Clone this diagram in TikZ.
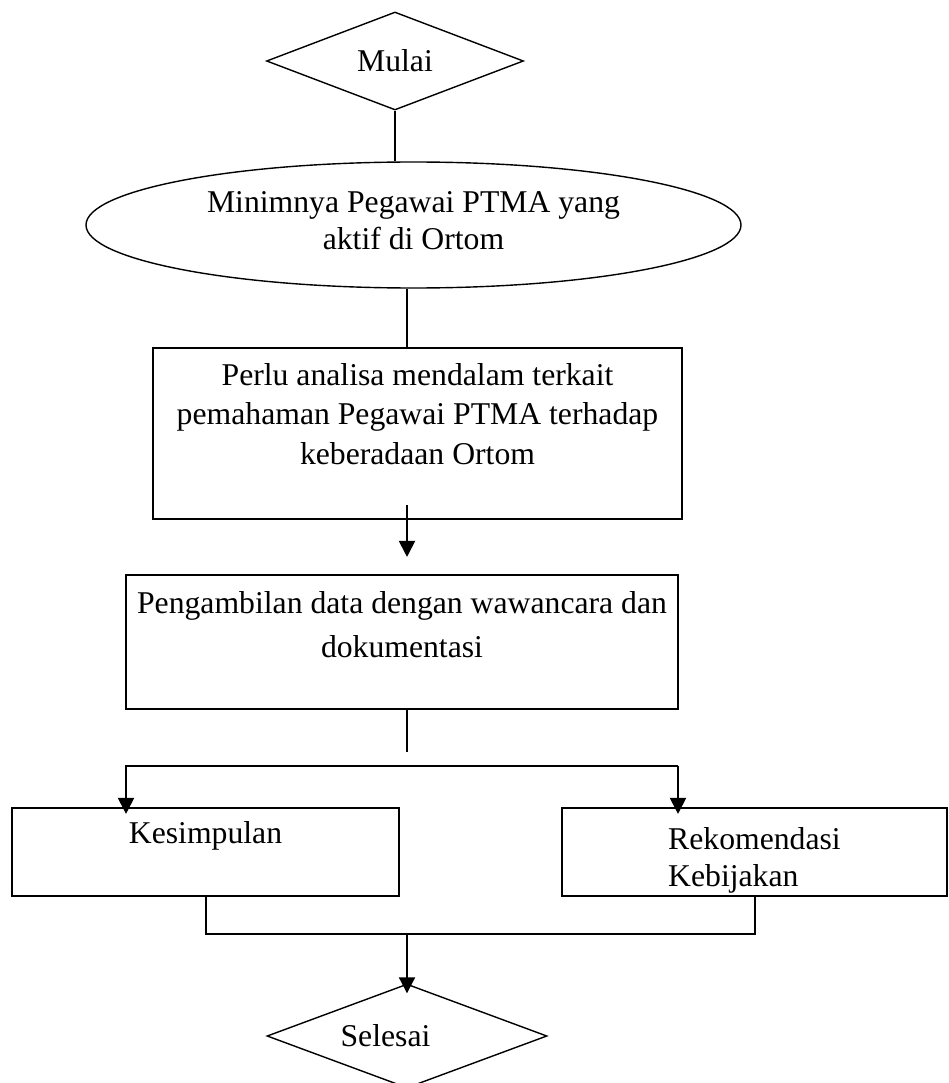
\documentclass[tikz,border=0pt]{standalone}
\usepackage{fontspec}
\setmainfont{Liberation Serif}
\usetikzlibrary{shapes.geometric, positioning, arrows.meta, calc}

\begin{document}
\begin{tikzpicture}[x=1pt, y=-1pt,
        % Define block styles
        terminal/.style={draw, diamond, aspect=2.6, inner sep=0pt, line width=1.4pt, text centered},
        oval/.style={draw, ellipse, inner sep=0pt, line width=1.4pt, align=center},
        process/.style={draw, rectangle, inner sep=0pt, line width=2.1pt},
        boxtext/.style={anchor=north, inner sep=0pt, align=center},
        link/.style={draw, line width=1.5pt},
        arrow/.style={draw, line width=2pt, -{Triangle[length=16pt, width=16pt]}},
        font=\fontsize{31.7pt}{37pt}\selectfont
    ]
    \useasboundingbox (0,0) rectangle (948,1083);

    % --- Nodes Placement ---
    \node[terminal, minimum width=257pt, minimum height=98pt] (mulai) at (395,61) {Mulai};

    % extra depth on the last line pushes the text a bit lower, as in the original
    \node[oval, minimum width=655pt, minimum height=126pt] (minim) at (413.5,225)
        {Minimnya Pegawai PTMA yang\\aktif di Ortom\rule[-9pt]{0pt}{0pt}};

    \node[process, minimum width=529pt, minimum height=171pt,
        label={[boxtext, yshift=-16pt, font=\fontsize{31.7pt}{39.5pt}\selectfont]north:{Perlu analisa mendalam terkait\\pemahaman Pegawai PTMA terhadap\\keberadaan Ortom}}]
        (analisa) at (417.5,433.5) {};

    \node[process, minimum width=552pt, minimum height=134pt,
        label={[boxtext, yshift=-17.6pt, font=\fontsize{31.7pt}{43.4pt}\selectfont]north:{Pengambilan data dengan wawancara dan\\dokumentasi}}]
        (pengambilan) at (402,642) {};

    % Output boxes
    \node[process, minimum width=387pt, minimum height=88pt,
        label={[boxtext, yshift=-14.3pt]north:Kesimpulan}]
        (kesimpulan) at (205.5,852) {};
    \node[process, minimum width=385pt, minimum height=88pt,
        label={[boxtext, align=left, yshift=-20.3pt]north:{Rekomendasi\\Kebijakan}}]
        (rekomendasi) at (754.5,852) {};

    \node[terminal, minimum width=280pt, minimum height=104pt] (selesai) at (407,1036) {Selesai\hspace*{43pt}};

    % Helper points on the main axis
    \coordinate (axis) at (407,0);
    \coordinate (split) at (407,752);
    \coordinate (fork_left) at (126,766);
    \coordinate (fork_right) at (678,766);
    \coordinate (merge) at (407,934);

    % --- Connections / Arrows ---
    \draw[link] (mulai.south) -- (mulai.south |- minim.north);
    \draw[link] (axis |- minim.south) -- (axis |- analisa.north);
    \draw[arrow] ([yshift=15pt]axis |- analisa.south) -- ([yshift=17pt]axis |- pengambilan.north);
    \draw[link] (axis |- pengambilan.south) -- (split);

    % Branch to both outputs
    \draw[arrow] (fork_right) -- (fork_left) -- ([yshift=-7pt]fork_left |- kesimpulan.north);
    \draw[arrow] (fork_right) -- ([yshift=-7pt]fork_right |- rekomendasi.north);

    % Join back to the end
    \draw[link, line width=2pt] (kesimpulan.south) |- (merge) -| (rekomendasi.south);
    \draw[arrow] (merge) -- ([yshift=-10pt]selesai.north);

\end{tikzpicture}
\end{document}
